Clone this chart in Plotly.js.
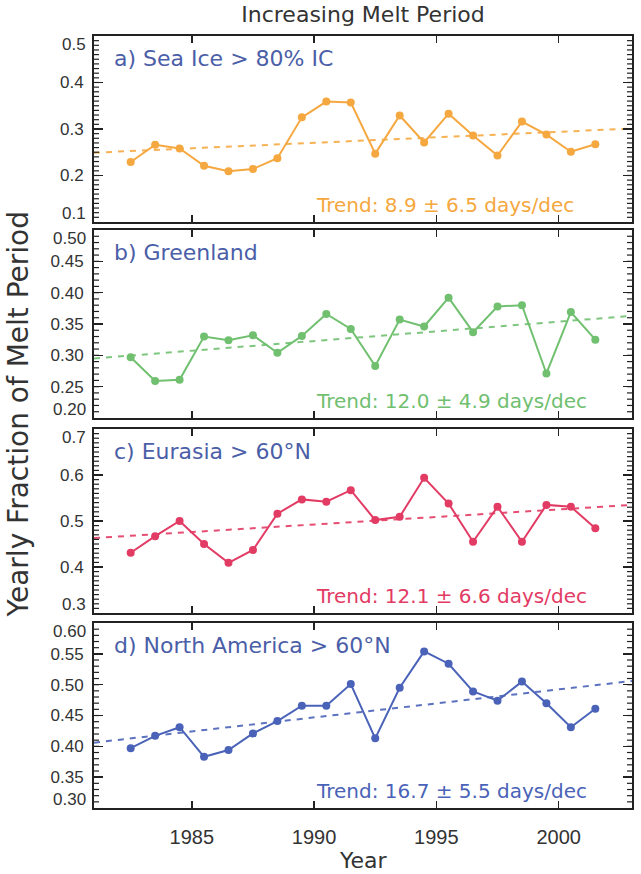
<!DOCTYPE html>
<html>
<head>
<meta charset="utf-8">
<script src="https://cdn.plot.ly/plotly-3.0.1.min.js"></script>
<style>html,body{margin:0;padding:0;background:#fff;}#chart{width:641px;height:874px;}</style>
</head>
<body>
<div id="chart"></div>
<script>
// ---- data ----
const years = [1982,1983,1984,1985,1986,1987,1988,1989,1990,1991,1992,1993,1994,1995,1996,1997,1998,1999,2000,2001];
const seaIce       = [0.229,0.266,0.258,0.221,0.209,0.214,0.237,0.325,0.359,0.357,0.247,0.329,0.271,0.333,0.286,0.243,0.316,0.288,0.251,0.267];
const greenland    = [0.297,0.259,0.261,0.330,0.324,0.332,0.304,0.331,0.366,0.342,0.283,0.357,0.346,0.392,0.337,0.378,0.380,0.271,0.369,0.325];
const eurasia      = [0.431,0.467,0.500,0.450,0.409,0.437,0.516,0.547,0.542,0.567,0.502,0.509,0.594,0.538,0.455,0.531,0.455,0.535,0.531,0.484];
const northAmerica = [0.397,0.417,0.431,0.383,0.394,0.421,0.441,0.466,0.466,0.501,0.413,0.495,0.554,0.534,0.489,0.474,0.505,0.470,0.431,0.461];

const trendYears        = [1981, 2003];
const seaIceTrend       = [0.249, 0.301];
const greenlandTrend    = [0.295, 0.363];
const eurasiaTrend      = [0.463, 0.535];
const northAmericaTrend = [0.406, 0.506];

const panelLabels = ["a) Sea Ice > 80% IC", "b) Greenland", "c) Eurasia > 60°N", "d) North America > 60°N"];
const trendLabels = ["Trend: 8.9 ± 6.5 days/dec", "Trend: 12.0 ± 4.9 days/dec", "Trend: 12.1 ± 6.6 days/dec", "Trend: 16.7 ± 5.5 days/dec"];

// y-axis ranges, major tick steps and label formats per panel
const yRanges = [[0.1, 0.5], [0.20, 0.50], [0.3, 0.7], [0.30, 0.60]];
const yMajor  = [0.1, 0.05, 0.1, 0.05];
const yFormat = [".1f", ".2f", ".1f", ".2f"];
const yMinor  = 0.01;
const yEndLabels = [["0.1","0.5"], ["0.20","0.50"], ["0.3","0.7"], ["0.30","0.60"]];
const xRange = [1981, 2003];
const xMajor = 5;

// ---- styling ----
const colors = ["#f5a840", "#70c070", "#e23b64", "#4a63b8"];
const labelColor = "#4b5ea8";
const frame = "#222";
const series = [seaIce, greenland, eurasia, northAmerica];
const trends = [seaIceTrend, greenlandTrend, eurasiaTrend, northAmericaTrend];
const domains = [[0.7591,1],[0.5052,0.7487],[0.2526,0.4909],[0,0.2396]];
const axisIds = ["", "2", "3", "4"];
const trendX = [0.895, 0.92, 0.92, 0.92];
const tickFont = {family: "Liberation Sans", size: 17, color: "#333"};
const minorLen = 5;

const traces = [];
const layout = {
  width: 641, height: 874,
  margin: {l: 94, r: 9, t: 36, b: 66},
  paper_bgcolor: "#fff", plot_bgcolor: "#fff",
  showlegend: false,
  font: {family: "DejaVu Sans, sans-serif", color: "#333"},
  title: {text: "Increasing Melt Period", font: {size: 22, color: "#333", family: "DejaVu Sans"},
          x: 0.5, xref: "paper", y: 0.984, yref: "container", yanchor: "middle"},
  annotations: [],
  shapes: []
};

for (let i = 0; i < 4; i++) {
  const id = axisIds[i];
  const xa = "x" + id, ya = "y" + id;
  const lo = yRanges[i][0], hi = yRanges[i][1];
  traces.push({
    x: trendYears, y: trends[i], xaxis: xa, yaxis: ya, mode: "lines",
    line: {color: colors[i], width: 2, dash: "6px,6px"}, opacity: 0.9, hoverinfo: "skip"
  });
  traces.push({
    x: years.map(v => v + 0.5), y: series[i], xaxis: xa, yaxis: ya, mode: "lines+markers",
    line: {color: colors[i], width: 2}, marker: {color: colors[i], size: 8, symbol: "circle"}
  });
  const alias = {};
  alias[yEndLabels[i][0]] = "";
  alias[yEndLabels[i][1]] = "";
  layout["xaxis" + id] = {
    domain: [0, 1], anchor: ya, range: xRange,
    tickmode: "linear", tick0: 1985, dtick: xMajor,
    showticklabels: i === 3, ticks: "inside", ticklen: 7, tickwidth: 1.5, tickcolor: frame,
    showline: true, linewidth: 2, linecolor: frame, mirror: "ticks",
    showgrid: false, zeroline: false,
    tickfont: {family: "Liberation Sans", size: 20, color: "#333"}, ticklabelstandoff: 10
  };
  if (i !== 3) layout["xaxis" + id].matches = "x";
  layout["yaxis" + id] = {
    domain: domains[i], anchor: xa, range: [lo, hi],
    tickmode: "linear", tick0: 0, dtick: yMajor[i], tickformat: yFormat[i], labelalias: alias,
    ticks: "inside", ticklen: 9, tickwidth: 1.5, tickcolor: frame,
    showline: true, linewidth: 2, linecolor: frame, mirror: "ticks",
    showgrid: false, zeroline: false,
    tickfont: tickFont, ticklabelstandoff: 5
  };
  // minor ticks (every 0.01) on both vertical frame edges, placed through the y axis scale
  const nMinor = Math.round((hi - lo) / yMinor);
  for (let k = 1; k < nMinor; k++) {
    const v = lo + k * yMinor;
    [[0, 0, minorLen], [1, -minorLen, 0]].forEach(([anchor, a, b]) => {
      layout.shapes.push({
        type: "line", xref: xa + " domain", xsizemode: "pixel", xanchor: anchor, x0: a, x1: b,
        yref: ya, y0: v, y1: v, line: {color: frame, width: 1.2}, layer: "above"
      });
    });
  }
  // end tick labels nudged inside their own panel
  layout.annotations.push({
    xref: "paper", x: 0, xanchor: "right", xshift: -6, yref: ya, y: lo, yanchor: "bottom", yshift: -3,
    text: yEndLabels[i][0], showarrow: false, font: tickFont
  });
  layout.annotations.push({
    xref: "paper", x: 0, xanchor: "right", xshift: -6, yref: ya, y: hi, yanchor: "top", yshift: 3,
    text: yEndLabels[i][1], showarrow: false, font: tickFont
  });
  layout.annotations.push({
    xref: xa + " domain", yref: ya + " domain", x: 0.033, y: 0.88, xanchor: "left", yanchor: "middle",
    text: panelLabels[i], showarrow: false, font: {family: "DejaVu Sans", size: 22, color: labelColor}
  });
  layout.annotations.push({
    xref: xa + " domain", yref: ya + " domain", x: trendX[i], y: 0.09, xanchor: "right", yanchor: "middle",
    text: trendLabels[i], showarrow: false, font: {family: "DejaVu Sans", size: 20, color: colors[i]}
  });
}

layout.annotations.push({
  xref: "paper", yref: "paper", x: -0.141, y: 0.51, xanchor: "center", yanchor: "middle", textangle: -90,
  text: "Yearly Fraction of Melt Period", showarrow: false, font: {family: "DejaVu Sans", size: 28, color: "#333"}
});
layout.annotations.push({
  xref: "paper", yref: "paper", x: 0.5, y: -0.0674, xanchor: "center", yanchor: "middle",
  text: "Year", showarrow: false, font: {family: "DejaVu Sans", size: 22, color: "#333"}
});

Plotly.newPlot("chart", traces, layout, {displayModeBar: false, staticPlot: true});
</script>
</body>
</html>
